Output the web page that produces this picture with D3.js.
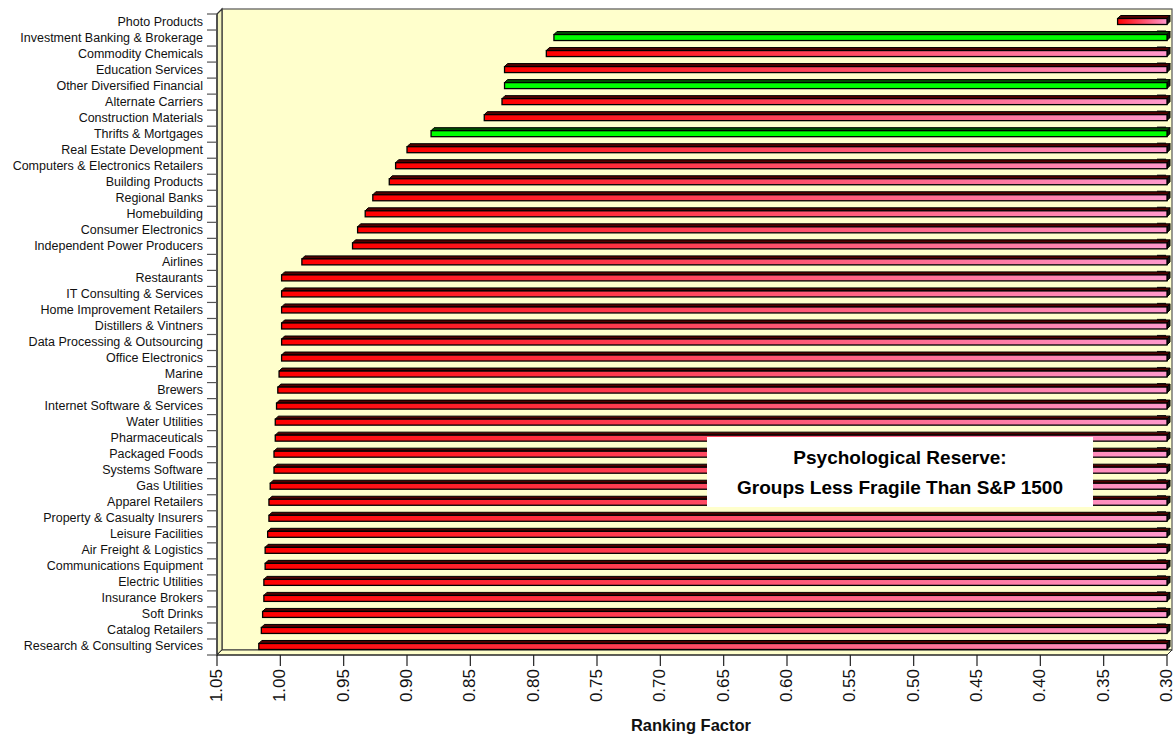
<!DOCTYPE html>
<html><head><meta charset="utf-8">
<script src="https://cdn.jsdelivr.net/npm/d3@7"></script>
<style>body{margin:0;background:#fff}svg{display:block}</style>
</head><body><svg id="c" width="1175" height="738"></svg>
<script>
const categories = ["Photo Products","Investment Banking & Brokerage","Commodity Chemicals","Education Services","Other Diversified Financial","Alternate Carriers","Construction Materials","Thrifts & Mortgages","Real Estate Development","Computers & Electronics Retailers","Building Products","Regional Banks","Homebuilding","Consumer Electronics","Independent Power Producers","Airlines","Restaurants","IT Consulting & Services","Home Improvement Retailers","Distillers & Vintners","Data Processing & Outsourcing","Office Electronics","Marine","Brewers","Internet Software & Services","Water Utilities","Pharmaceuticals","Packaged Foods","Systems Software","Gas Utilities","Apparel Retailers","Property & Casualty Insurers","Leisure Facilities","Air Freight & Logistics","Communications Equipment","Electric Utilities","Insurance Brokers","Soft Drinks","Catalog Retailers","Research & Consulting Services"];
const values = [0.339,0.784,0.790,0.823,0.823,0.825,0.839,0.881,0.900,0.909,0.914,0.927,0.933,0.939,0.943,0.983,0.999,0.999,0.999,0.999,0.999,0.999,1.001,1.002,1.003,1.004,1.004,1.005,1.005,1.008,1.009,1.009,1.010,1.012,1.012,1.013,1.013,1.014,1.015,1.017];
const greenGroups = ["Investment Banking & Brokerage","Other Diversified Financial","Thrifts & Mortgages"];
const tickValues = [1.05,1.00,0.95,0.90,0.85,0.80,0.75,0.70,0.65,0.60,0.55,0.50,0.45,0.40,0.35,0.30];
const axisTitle = "Ranking Factor";
const noteLines = ["Psychological Reserve:","Groups Less Fragile Than S&P 1500"];

const svg = d3.select("#c");
const x = d3.scaleLinear().domain([1.05,0.30]).range([217,1167]);
const y = d3.scaleBand().domain(categories).range([14,655]);
const dx = 5, dy = 5;
const defs = svg.append("defs");
const g1 = defs.append("linearGradient").attr("id","redg");
g1.append("stop").attr("offset","0%").attr("stop-color","#ff0000");
g1.append("stop").attr("offset","100%").attr("stop-color","#ff99cc");

// walls
svg.append("rect").attr("x",x(1.05)+dx).attr("y",y.range()[0]-dy)
  .attr("width",x(0.30)-x(1.05)).attr("height",y.range()[1]-y.range()[0])
  .attr("fill","#ffffcc").attr("stroke","#555").attr("stroke-width",1.2);
svg.append("polygon").attr("points",[[x(1.05),14],[x(1.05)+dx,14-dy],[x(1.05)+dx,655-dy],[x(1.05),655]].join(" "))
  .attr("fill","#f2f2bf").attr("stroke","#333").attr("stroke-width",1.2);
svg.append("polygon").attr("points",[[x(1.05),655],[x(1.05)+dx,655-dy],[x(0.30)+dx,655-dy],[x(0.30),655]].join(" "))
  .attr("fill","#ffffcc").attr("stroke","#333").attr("stroke-width",1);

// small right-side marks at band boundaries
svg.append("g").selectAll("line").data(categories.slice(1)).join("line")
  .attr("x1",x(0.30)-10).attr("x2",x(0.30)-1)
  .attr("y1",d=>y(d)+1).attr("y2",d=>y(d)+1)
  .attr("stroke","#222").attr("stroke-width",1.2);

// bars
const bars = svg.append("g").selectAll("g").data(categories).join("g");
const bd = 3;
bars.each(function(c,i){
  const g = d3.select(this);
  const v = values[i];
  const green = greenGroups.includes(c);
  const x0 = x(v), x1 = x(0.30);
  const yt = y(c) + 4.5, h = 6;
  g.append("polygon").attr("points",[[x0,yt],[x0+bd,yt-bd],[x1+bd,yt-bd],[x1,yt]].join(" "))
    .attr("fill",green?"#005000":"#500000").attr("stroke","#000").attr("stroke-width",1);
  g.append("polygon").attr("points",[[x1,yt],[x1+bd,yt-bd],[x1+bd,yt+h-bd],[x1,yt+h]].join(" "))
    .attr("fill","#111").attr("stroke","#000").attr("stroke-width",1);
  g.append("rect").attr("x",x0).attr("y",yt).attr("width",x1-x0).attr("height",h)
    .attr("fill",green?"#00ff00":"url(#redg)").attr("stroke","#000").attr("stroke-width",1.3);
});

// category axis
const ya = svg.append("g");
ya.append("line").attr("x1",x(1.05)).attr("x2",x(1.05)).attr("y1",14).attr("y2",655).attr("stroke","#333").attr("stroke-width",1.2);
ya.selectAll("line.t").data(categories.concat(["_end"])).join("line").attr("class","t")
  .attr("x1",x(1.05)-10).attr("x2",x(1.05))
  .attr("y1",d=>d==="_end"?655:y(d)).attr("y2",d=>d==="_end"?655:y(d))
  .attr("stroke","#555").attr("stroke-width",1.2);
ya.selectAll("text").data(categories).join("text")
  .attr("x",203).attr("y",d=>y(d)+y.bandwidth()/2+3.5)
  .attr("text-anchor","end").attr("font-family","Liberation Sans, Arial, sans-serif")
  .attr("font-size",12.5).attr("fill","#111").text(d=>d);

// value axis
const xa = svg.append("g");
xa.append("line").attr("x1",x(1.05)).attr("x2",x(0.30)).attr("y1",655).attr("y2",655).attr("stroke","#222").attr("stroke-width",1.2);
xa.selectAll("line.t").data(tickValues).join("line").attr("class","t")
  .attr("x1",d=>x(d)).attr("x2",d=>x(d)).attr("y1",655).attr("y2",666)
  .attr("stroke","#222").attr("stroke-width",1.2);
xa.selectAll("text").data(tickValues).join("text")
  .attr("transform",d=>`translate(${x(d)+5},669) rotate(-90)`)
  .attr("text-anchor","end").attr("font-family","Liberation Sans, Arial, sans-serif")
  .attr("font-size",17).attr("fill","#111").text(d=>d3.format(".2f")(d));
svg.append("text").attr("x",691).attr("y",731).attr("text-anchor","middle")
  .attr("font-family","Liberation Sans, Arial, sans-serif").attr("font-weight","bold")
  .attr("font-size",16.5).attr("fill","#111").text(axisTitle);

// note box
svg.append("rect").attr("x",707).attr("y",437).attr("width",386).attr("height",70).attr("fill","#fff");
svg.append("g").selectAll("text").data(noteLines).join("text")
  .attr("x",900).attr("y",(d,i)=>464+i*30).attr("text-anchor","middle")
  .attr("font-family","Liberation Sans, Arial, sans-serif").attr("font-weight","bold")
  .attr("font-size",19).attr("fill","#000").text(d=>d);
</script></body></html>
